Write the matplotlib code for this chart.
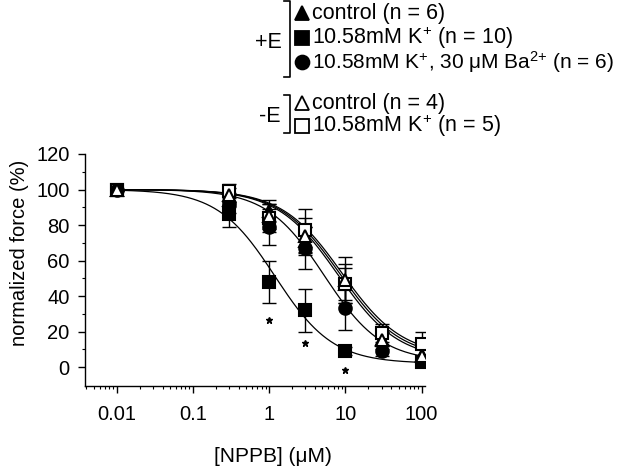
import numpy as np
import matplotlib
matplotlib.use("Agg")
import matplotlib.pyplot as plt
from matplotlib.ticker import FixedLocator, NullFormatter, LogLocator

plt.rcParams['font.family'] = ['Liberation Sans', 'DejaVu Sans']
plt.rcParams['mathtext.fontset'] = 'custom'
plt.rcParams['mathtext.rm'] = 'Liberation Sans'
plt.rcParams['mathtext.it'] = 'Liberation Sans:italic'
plt.rcParams['mathtext.bf'] = 'Liberation Sans:bold'

# ---------------- data ----------------
conc = [0.01, 0.3, 1, 3, 10, 30, 100]

ctrl_E      = [100, 94, 88, 71, 47, 16, 7]      # filled triangle
k_E         = [100, 86, 48, 32, 9, None, 3]     # filled square
kba_E       = [100, 92, 79, 67, 33, 9, 4]       # filled circle
ctrl_noE    = [100, 97, 85, 74, 49, 15, 6]      # open triangle
k_noE       = [100, 99, 84, 77, 47, 19, 13]     # open square

ctrl_E_err   = [0, 4, 6, 8, 9, 4, 3]
k_E_err      = [0, 7, 12, 12, 2, 0, 2]
kba_E_err    = [0, 5, 10, 12, 12, 3, 2]
ctrl_noE_err = [0, 4, 7, 10, 13, 5, 4]
k_noE_err    = [0, 4, 8, 12, 11, 5, 7]

# Hill fit parameters (IC50 uM, slope, bottom %)
fit_ic50   = [8.0, 1.2, 5.3, 8.5, 9.0]
fit_slope  = [1.1, 1.15, 1.15, 1.1, 1.1]
fit_bottom = [4, 2, 3, 5, 6]

star_x = [1, 3, 10]
star_y = [26.5, 13.3, -1.7]

yticks = [0, 20, 40, 60, 80, 100, 120]
xticks = [0.01, 0.1, 1, 10, 100]
xticklabels = ['0.01', '0.1', '1', '10', '100']

legend_E = ['control (n = 6)', '10.58mM K$^{{+}}$ (n = 10)',
            '10.58mM K$^{{+}}$, 30 \u03bcM Ba$^{2{+}}$ (n = 6)']
legend_noE = ['control (n = 4)', '10.58mM K$^{{+}}$ (n = 5)']

# ---------------- figure ----------------
W, H = 640, 468
fig = plt.figure(figsize=(W / 100, H / 100), dpi=100)
L, R, B, T = 85, 425, 386, 154
ax = fig.add_axes([L / W, 1 - B / H, (R - L) / W, (B - T) / H])
ax.set_xscale('log')
ax.set_xlim(10 ** -2.415, 10 ** 2.045)
ax.set_ylim(-10.7, 120)

series = [
    (ctrl_E, ctrl_E_err, '^', 'black'),
    (k_E, k_E_err, 's', 'black'),
    (kba_E, kba_E_err, 'o', 'black'),
    (ctrl_noE, ctrl_noE_err, '^', 'white'),
    (k_noE, k_noE_err, 's', 'white'),
]
marker_z = [4.0, 3.9, 4.2, 4.3, 4.1]

xs = np.logspace(-2, 2.0, 300)
for i in range(5):
    b, ic, n = fit_bottom[i], fit_ic50[i], fit_slope[i]
    ys = b + (100 - b) / (1 + (xs / ic) ** n)
    ax.plot(xs, ys, color='black', lw=0.9, zorder=2)

for (vals, errs, m, fc), z in zip(series, marker_z):
    x = [c for c, v in zip(conc, vals) if v is not None]
    y = [v for v in vals if v is not None]
    e = [er for v, er in zip(vals, errs) if v is not None]
    ax.errorbar(x, y, yerr=e, fmt='none', ecolor='black', elinewidth=1.0,
                capsize=5, capthick=1.0, zorder=3)
    ax.plot(x, y, linestyle='none', marker=m, markersize=9,
            markerfacecolor=fc, markeredgecolor='black', markeredgewidth=1.5,
            zorder=z)

ax.plot(star_x, star_y, linestyle='none', marker='*', markersize=5,
        color='black', zorder=4)

for s in ['top', 'right']:
    ax.spines[s].set_visible(False)
ax.spines['left'].set_bounds(-10.7, 120)
ax.spines['left'].set_linewidth(1.0)
ax.spines['bottom'].set_linewidth(1.0)

ax.set_yticks(yticks)
ax.yaxis.set_minor_locator(FixedLocator([10, 30, 50, 70, 90, 110]))
ax.set_xticks(xticks)
ax.set_xticklabels(xticklabels)
ax.xaxis.set_minor_locator(LogLocator(base=10, subs=np.arange(2, 10)))
ax.xaxis.set_minor_formatter(NullFormatter())
ax.tick_params(axis='both', which='major', direction='out', length=5,
               width=1.0, labelsize=14.5, colors='black')
ax.tick_params(axis='both', which='minor', direction='out', length=2.5,
               width=0.8)
ax.tick_params(axis='x', which='major', pad=9)
ax.tick_params(axis='y', which='major', pad=6)

# ---------------- overlay in pixel coordinates ----------------
ov = fig.add_axes([0, 0, 1, 1])
ov.set_xlim(0, W)
ov.set_ylim(H, 0)
ov.axis('off')

ov.text(20, 253, 'normalized force (%)', fontsize=14.5, rotation=90,
        va='center', ha='center')
ov.text(273, 457, '[NPPB] (\u03bcM)', fontsize=15, va='center', ha='center')

fs = 15.5
rowsE = [13, 38, 62]
rowsN = [103, 126]
mk_x = 302
tx = 312
sizes_E = [fs, fs, 15.0]
for y, lab, s, (v, e, m, fc) in zip(rowsE, legend_E, sizes_E, series[:3]):
    ov.plot([mk_x], [y], marker=m, markersize=10, markerfacecolor=fc,
            markeredgecolor='black', markeredgewidth=1.3, linestyle='none')
    ov.text(tx, y, lab, fontsize=s, va='center', ha='left')
for y, lab, (v, e, m, fc) in zip(rowsN, legend_noE, series[3:]):
    ov.plot([mk_x], [y], marker=m, markersize=10, markerfacecolor=fc,
            markeredgecolor='black', markeredgewidth=1.3, linestyle='none')
    ov.text(tx, y, lab, fontsize=fs, va='center', ha='left')

# brackets
ov.plot([284, 290, 290, 284], [1, 1, 77, 77], color='black', lw=1.2)
ov.plot([284, 290, 290, 284], [95, 95, 133, 133], color='black', lw=1.2)
ov.text(282, 42, '+E', fontsize=fs, va='center', ha='right')
ov.text(281, 116, '-E', fontsize=fs, va='center', ha='right')

fig.savefig('out.png', dpi=100)
